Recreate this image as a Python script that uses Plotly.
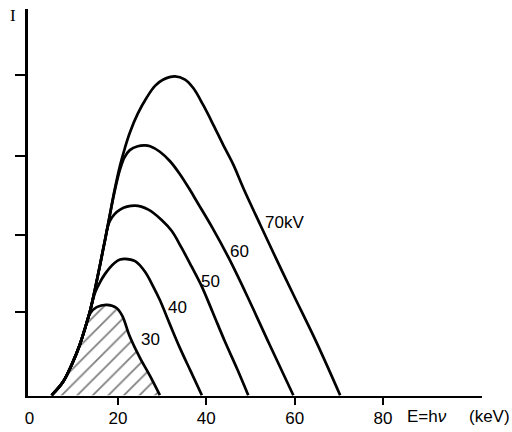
import plotly.graph_objects as go

# Photon energy E (keV) and intensity I (arbitrary units)
e_30 = [5.0, 7.6, 9.9, 11.4, 12.6, 13.7, 15.2, 17.5, 19.7, 21.0, 22.7, 25.0, 27.3, 29.5]
i_30 = [0, 0.17, 0.43, 0.64, 0.85, 1.03, 1.11, 1.14, 1.10, 1.0, 0.74, 0.47, 0.24, 0]

e_40 = [5.0, 7.6, 9.9, 11.4, 12.6, 13.7, 14.8, 16.0, 17.1, 18.2, 19.3, 20.5, 21.6, 23.9,
        26.1, 28.0, 29.5, 31.8, 34.0, 36.5, 39.0]
i_40 = [0, 0.17, 0.43, 0.64, 0.85, 1.06, 1.29, 1.43, 1.53, 1.61, 1.67, 1.71, 1.72, 1.69,
        1.56, 1.37, 1.20, 0.89, 0.60, 0.30, 0]

e_50 = [5.0, 7.6, 9.9, 11.4, 12.6, 13.7, 14.8, 15.95, 17.1, 18.2, 20.5, 23.9, 26.9, 29.9,
        32.2, 34.4, 36.7, 39.0, 41.5, 44.2, 47.0, 49.5]
i_50 = [0, 0.17, 0.43, 0.64, 0.85, 1.06, 1.33, 1.64, 1.96, 2.20, 2.34, 2.39, 2.34, 2.21,
        2.07, 1.86, 1.62, 1.37, 1.04, 0.68, 0.33, 0]

e_60 = [5.0, 7.6, 9.9, 11.4, 12.6, 13.7, 14.8, 15.95, 17.1, 18.2, 19.3, 20.5, 21.5, 22.7,
        24.5, 26.1, 27.3, 29.5, 31.8, 34.0, 36.3, 38.0, 41.4, 45.0, 49.1, 54.4, 59.7]
i_60 = [0, 0.17, 0.43, 0.64, 0.85, 1.06, 1.33, 1.64, 1.96, 2.28, 2.58, 2.85, 3.00, 3.09,
        3.14, 3.15, 3.14, 3.07, 2.95, 2.79, 2.59, 2.43, 2.11, 1.74, 1.27, 0.63, 0]

e_70 = [5.0, 7.6, 9.9, 11.4, 12.6, 13.7, 14.8, 15.95, 17.1, 18.2, 19.3, 20.5, 21.6, 22.7,
        24.5, 26.5, 28.4, 30.3, 32.9, 35.2, 37.1, 39.3, 41.6, 43.8, 46.1, 48.4, 52.3, 56.0,
        59.7, 65.0, 70.3]
i_70 = [0, 0.17, 0.43, 0.64, 0.85, 1.06, 1.33, 1.64, 1.96, 2.28, 2.60, 2.90, 3.12, 3.31,
        3.55, 3.75, 3.90, 3.98, 4.02, 3.98, 3.87, 3.66, 3.41, 3.16, 2.91, 2.61, 2.14, 1.70,
        1.27, 0.66, 0]

curve_labels = ["30", "40", "50", "60", "70kV"]
label_e = [27.3, 33.4, 41.0, 47.6, 57.6]
label_i = [0.70, 1.11, 1.44, 1.81, 2.18]

x_tick_vals = [0, 20, 40, 60, 80]
x_tick_text = ["0", "20", "40", "60", "80"]
x_tick_marks = [20, 40, 60, 80]
y_tick_vals = [1.05, 2.02, 3.02, 4.04]

x_title = "E=h<i>ν</i>"
x_unit = "(keV)"
y_title = "I"

FONT = "Liberation Sans, Arial, sans-serif"
LINE = dict(color="black", width=2.7, shape="spline", smoothing=1.0)

fig = go.Figure()

# hatched area under 30 kV curve
fig.add_trace(go.Scatter(
    x=e_30, y=i_30, mode="lines", fill="tozeroy", line=LINE,
    fillcolor="white",
    fillpattern=dict(shape="/", size=11, solidity=0.16, fgcolor="black", bgcolor="white"),
    hoverinfo="skip", showlegend=False,
))
for ex, iy in [(e_40, i_40), (e_50, i_50), (e_60, i_60), (e_70, i_70)]:
    fig.add_trace(go.Scatter(x=ex, y=iy, mode="lines", line=LINE,
                             hoverinfo="skip", showlegend=False))

for t, xe, yi in zip(curve_labels, label_e, label_i):
    fig.add_annotation(x=xe, y=yi, xref="x", yref="y", text=t, showarrow=False,
                       font=dict(family=FONT, size=17, color="black"),
                       xanchor="center", yanchor="middle")

fig.add_annotation(x=85.0, y=-20 / 387, xref="x", yref="paper", text=x_title,
                   showarrow=False, xanchor="left", yanchor="middle",
                   font=dict(family=FONT, size=17, color="black"))
fig.add_annotation(x=99.0, y=-20 / 387, xref="x", yref="paper", text=x_unit,
                   showarrow=False, xanchor="left", yanchor="middle",
                   font=dict(family=FONT, size=17, color="black"))
fig.add_annotation(x=-15 / 454, y=(396 - 16) / 387, xref="paper", yref="paper",
                   text=y_title, showarrow=False, xanchor="center", yanchor="middle",
                   font=dict(family="Liberation Serif, Times New Roman, serif", size=17,
                             color="black"))

fig.update_layout(
    width=512, height=432,
    margin=dict(l=28, r=30, t=9, b=36, autoexpand=False),
    paper_bgcolor="white", plot_bgcolor="white",
    xaxis=dict(range=[-0.34, 102.4], showgrid=False, zeroline=False, automargin=False,
               showline=True, linecolor="black", linewidth=2,
               tickmode="array", tickvals=x_tick_vals, ticktext=x_tick_text,
               ticks="", ticklabelstandoff=6,
               tickfont=dict(family=FONT, size=17, color="black"),
               minor=dict(tickmode="array", tickvals=x_tick_marks, ticks="outside",
                          ticklen=7, tickwidth=1.5, tickcolor="black", showgrid=False)),
    yaxis=dict(range=[-0.01, 4.87], showgrid=False, zeroline=False, automargin=False,
               showline=True, linecolor="black", linewidth=2.5,
               tickmode="array", tickvals=y_tick_vals, showticklabels=False,
               ticks="outside", ticklen=10, tickwidth=1.5, tickcolor="black"),
)

# remove the default page margin so the 512x432 figure fills the window exactly
fig.write_html("out.html",
               config={"displayModeBar": False},
               post_script="document.body.style.margin='0';document.body.style.overflow='hidden';")
